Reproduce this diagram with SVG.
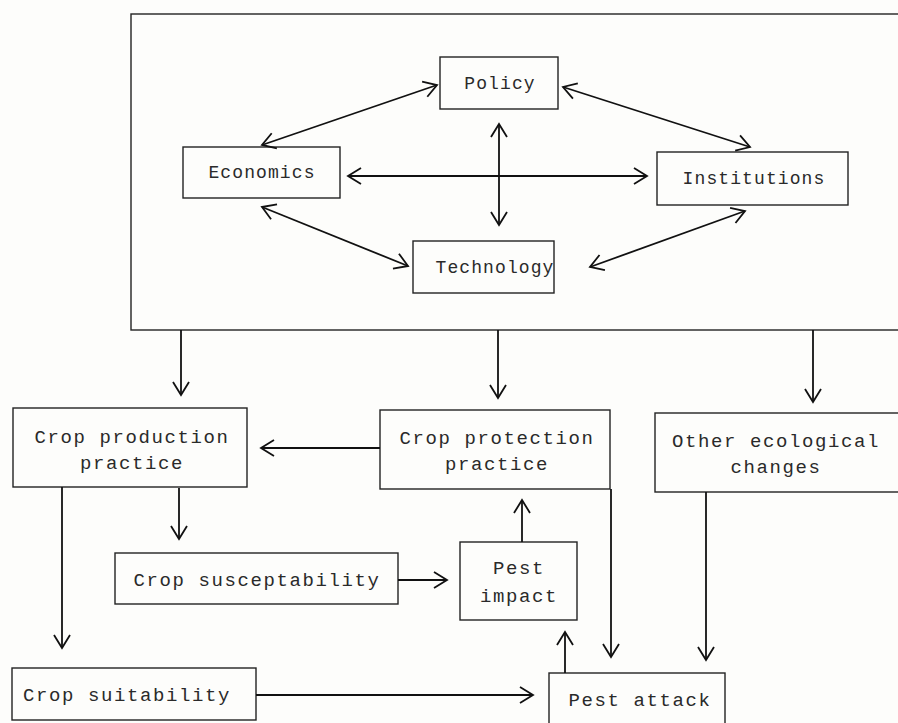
<svg xmlns="http://www.w3.org/2000/svg" width="898" height="723" viewBox="0 0 898 723">
<style>
.box{fill:none;stroke:#222;stroke-width:1.4}
.t{font-family:"Liberation Mono","DejaVu Sans Mono",monospace;font-size:19px;fill:#2a2a2a;text-anchor:middle;letter-spacing:1.6px}
.tt{font-family:"Liberation Mono","DejaVu Sans Mono",monospace;font-size:18px;fill:#2a2a2a;text-anchor:middle;letter-spacing:1.1px}
.c{fill:none;stroke:#111;stroke-width:1.8}
</style>
<defs>
<marker id="ah" viewBox="-16 -10 18 20" refX="0" refY="0" markerWidth="18" markerHeight="20" markerUnits="userSpaceOnUse" orient="auto-start-reverse">
<path d="M-13,-8 L0,0 L-13,8" fill="none" stroke="#111" stroke-width="1.8"/>
</marker>
</defs>
<rect width="898" height="723" fill="#fdfdfb"/>
<g id="frame"><rect class="box" x="131" y="14" width="790" height="316"/></g>
<g id="policy"><rect class="box" x="440" y="57" width="118" height="52"/><text class="tt" x="500" y="89">Policy</text></g>
<g id="economics"><rect class="box" x="183" y="147" width="157" height="51"/><text class="tt" x="262" y="178">Economics</text></g>
<g id="institutions"><rect class="box" x="657" y="152" width="191" height="53"/><text class="tt" x="754" y="184">Institutions</text></g>
<g id="technology"><rect class="box" x="413" y="241" width="141" height="52"/><text class="tt" x="495" y="273">Technology</text></g>
<g id="cropprod"><rect class="box" x="13" y="408" width="234" height="79"/><text class="t" x="132" y="443">Crop production</text><text class="t" x="132" y="469">practice</text></g>
<g id="cropprot"><rect class="box" x="380" y="410" width="230" height="79"/><text class="t" x="497" y="444">Crop protection</text><text class="t" x="497" y="470">practice</text></g>
<g id="other"><rect class="box" x="655" y="413" width="245" height="79"/><text class="t" x="776" y="447">Other ecological</text><text class="t" x="776" y="473">changes</text></g>
<g id="suscept"><rect class="box" x="115" y="553" width="283" height="51"/><text class="t" x="257" y="586">Crop susceptability</text></g>
<g id="impact"><rect class="box" x="460" y="542" width="117" height="78"/><text class="t" x="519" y="574">Pest</text><text class="t" x="519" y="602">impact</text></g>
<g id="suit"><rect class="box" x="12" y="668" width="244" height="52"/><text class="t" x="127" y="701">Crop suitability</text></g>
<g id="attack"><rect class="box" x="549" y="673" width="176" height="70"/><text class="t" x="640" y="706">Pest attack</text></g>
<g id="connectors">
<line class="c" x1="262" y1="145" x2="437" y2="85" marker-start="url(#ah)" marker-end="url(#ah)"/>
<line class="c" x1="563" y1="87" x2="750" y2="147" marker-start="url(#ah)" marker-end="url(#ah)"/>
<line class="c" x1="348" y1="176" x2="647" y2="176" marker-start="url(#ah)" marker-end="url(#ah)"/>
<line class="c" x1="499" y1="124" x2="499" y2="225" marker-start="url(#ah)" marker-end="url(#ah)"/>
<line class="c" x1="262" y1="207" x2="408" y2="266" marker-start="url(#ah)" marker-end="url(#ah)"/>
<line class="c" x1="590" y1="267" x2="745" y2="211" marker-start="url(#ah)" marker-end="url(#ah)"/>
<line class="c" x1="181" y1="330" x2="181" y2="395" marker-end="url(#ah)"/>
<line class="c" x1="498" y1="330" x2="498" y2="398" marker-end="url(#ah)"/>
<line class="c" x1="813" y1="330" x2="813" y2="402" marker-end="url(#ah)"/>
<line class="c" x1="380" y1="448" x2="261" y2="448" marker-end="url(#ah)"/>
<line class="c" x1="179" y1="488" x2="179" y2="539" marker-end="url(#ah)"/>
<line class="c" x1="62" y1="487" x2="62" y2="648" marker-end="url(#ah)"/>
<line class="c" x1="398" y1="580" x2="447" y2="580" marker-end="url(#ah)"/>
<line class="c" x1="522" y1="542" x2="522" y2="500" marker-end="url(#ah)"/>
<line class="c" x1="611" y1="489" x2="611" y2="657" marker-end="url(#ah)"/>
<line class="c" x1="706" y1="492" x2="706" y2="660" marker-end="url(#ah)"/>
<line class="c" x1="565" y1="673" x2="565" y2="632" marker-end="url(#ah)"/>
<line class="c" x1="256" y1="695" x2="533" y2="695" marker-end="url(#ah)"/>
</g>
</svg>
